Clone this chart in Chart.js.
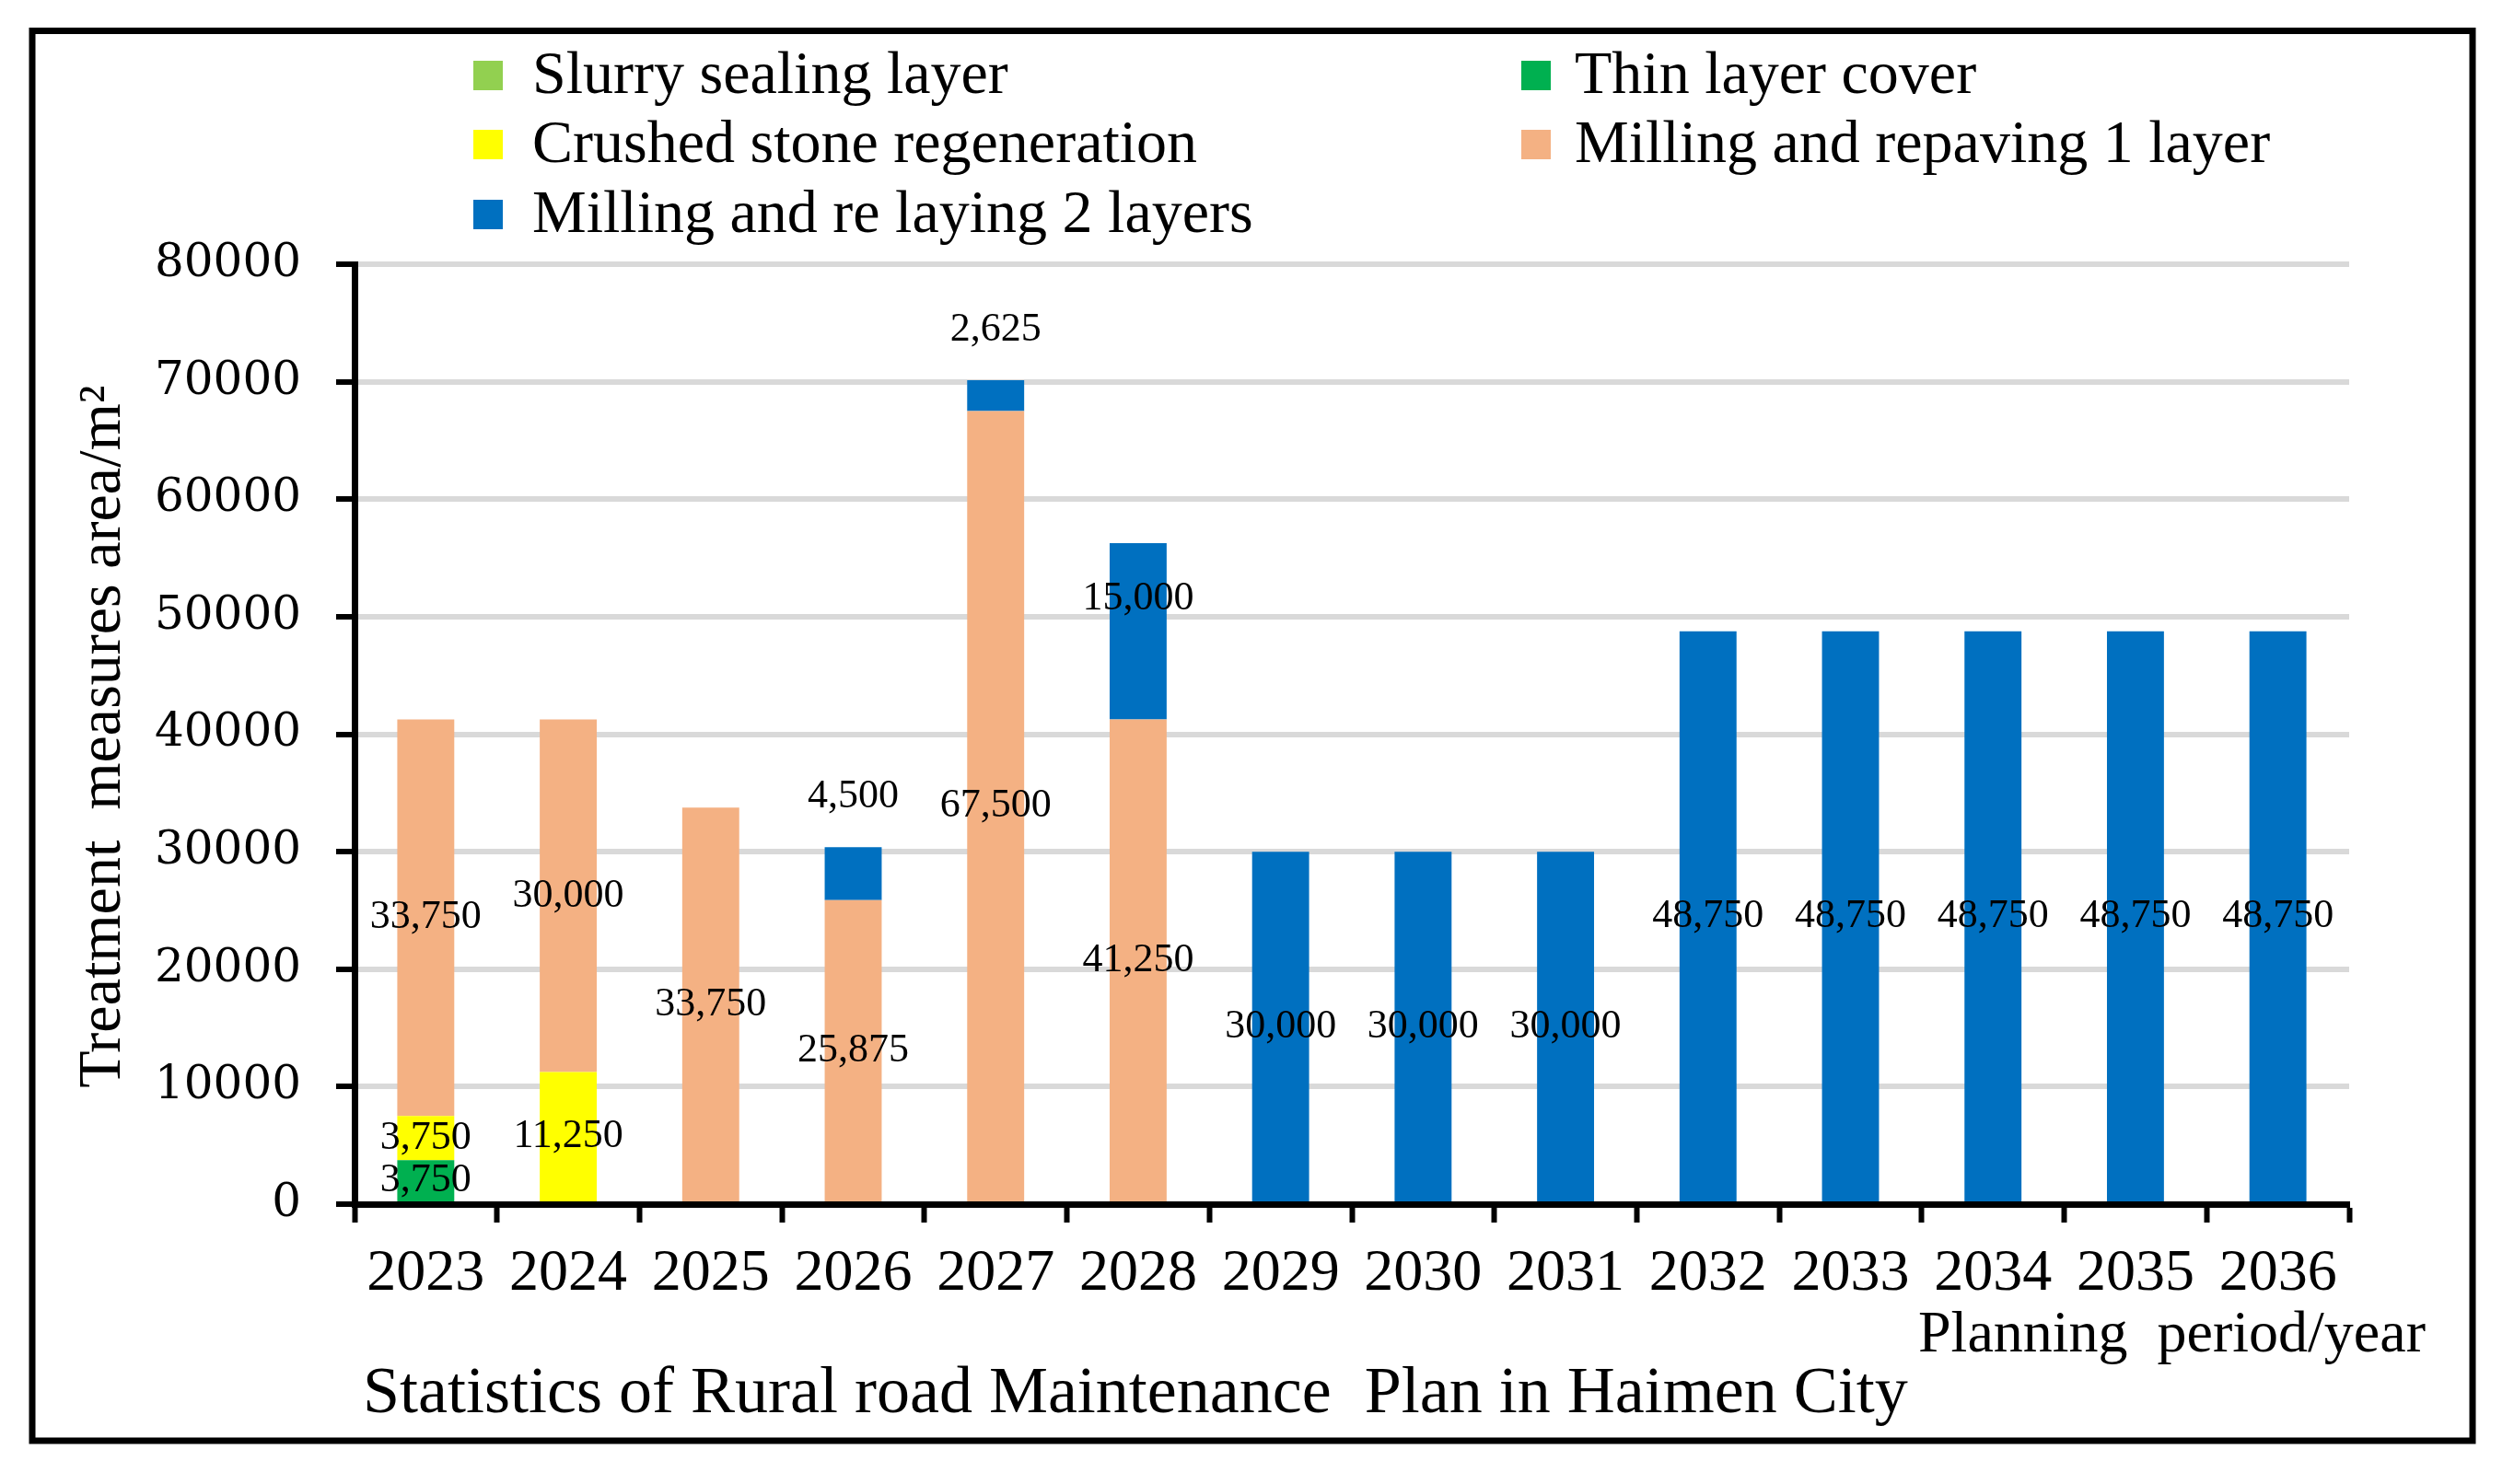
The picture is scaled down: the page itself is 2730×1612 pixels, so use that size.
<!DOCTYPE html>
<html>
<head>
<meta charset="utf-8">
<script src="https://cdn.jsdelivr.net/npm/chart.js@4.4.1/dist/chart.umd.min.js"></script>
<style>
  html, body { margin: 0; padding: 0; background: #fff; }
  #wrap { position: relative; width: 2730px; height: 1612px; }
</style>
</head>
<body>
<div id="wrap"><canvas id="myChart"></canvas></div>
<script>
const years = ['2023', '2024', '2025', '2026', '2027', '2028', '2029', '2030', '2031', '2032', '2033', '2034', '2035', '2036'];

const slurrySealing = [0, 0, 0, 0, 0, 0, 0, 0, 0, 0, 0, 0, 0, 0];
const thinLayer = [3750, 0, 0, 0, 0, 0, 0, 0, 0, 0, 0, 0, 0, 0];
const crushedStone = [3750, 11250, 0, 0, 0, 0, 0, 0, 0, 0, 0, 0, 0, 0];
const milling1 = [33750, 30000, 33750, 25875, 67500, 41250, 0, 0, 0, 0, 0, 0, 0, 0];
const milling2 = [0, 0, 0, 4500, 2625, 15000, 30000, 30000, 30000, 48750, 48750, 48750, 48750, 48750];

const yTicks = [0, 10000, 20000, 30000, 40000, 50000, 60000, 70000, 80000];

const serif = '"Liberation Serif", "Times New Roman", serif';

// legend, titles, data labels and the outer frame
const textPlugin = {
  id: 'texts',
  afterDatasetsDraw(chart) {
    const ctx = chart.ctx;
    const sets = chart.data.datasets;
    const last = sets.length - 1;
    ctx.save();
    ctx.font = '44px ' + serif;
    ctx.fillStyle = '#000';
    ctx.textAlign = 'center';
    ctx.textBaseline = 'middle';
    sets.forEach((ds, i) => {
      const meta = chart.getDatasetMeta(i);
      meta.data.forEach((bar, j) => {
        const v = ds.data[j];
        if (!v) return;
        let y = (bar.y + bar.base) / 2;
        const below = sets.slice(0, i).reduce((s, d) => s + d.data[j], 0);
        if (i === last && v < 5000) {
          // small top segments get their label above the bar
          y = bar.y - 55;
        } else if (i === last && below > 0) {
          // top segment sitting on another one: nudged up a bit
          y -= 35;
        }
        ctx.fillText(v.toLocaleString('en-US'), bar.x, y);
      });
    });
    ctx.restore();
  },
  afterDraw(chart) {
    const ctx = chart.ctx;
    ctx.save();

    // outer frame
    ctx.strokeStyle = '#000';
    ctx.lineWidth = 7;
    ctx.strokeRect(35, 33.5, 2650, 1531.5);

    // legend in two columns
    const cols = [514, 1652];
    const rows = [82, 157, 233];
    ctx.font = '66px ' + serif;
    ctx.textBaseline = 'middle';
    ctx.textAlign = 'left';
    chart.data.datasets.forEach((ds, i) => {
      const x = cols[i % 2];
      const y = rows[Math.floor(i / 2)];
      ctx.fillStyle = ds.backgroundColor;
      ctx.fillRect(x, y - 16, 32, 32);
      ctx.fillStyle = '#000';
      ctx.fillText(ds.label, x + (i % 2 ? 58 : 64), y + 2);
    });

    // axis titles
    ctx.textBaseline = 'alphabetic';
    ctx.font = '64px ' + serif;
    ctx.fillText('Planning  period/year', 2083, 1468);

    ctx.font = '72px ' + serif;
    ctx.fillText('Statistics of Rural road Maintenance  Plan in Haimen City', 394, 1534);

    ctx.translate(130, 800);
    ctx.rotate(-Math.PI / 2);
    ctx.textAlign = 'center';
    ctx.font = '66px ' + serif;
    ctx.fillText('Treatment  measures area/m\u00B2', 0, 0);

    ctx.restore();
  }
};

const ctx = document.getElementById('myChart').getContext('2d');

const myChart = new Chart(ctx, {
  type: 'bar',
  data: {
    labels: years,
    datasets: [
      { label: 'Slurry sealing layer', data: slurrySealing, backgroundColor: '#92d050' },
      { label: 'Thin layer cover', data: thinLayer, backgroundColor: '#00b050' },
      { label: 'Crushed stone regeneration', data: crushedStone, backgroundColor: '#ffff00' },
      { label: 'Milling and repaving 1 layer', data: milling1, backgroundColor: '#f4b183' },
      { label: 'Milling and re laying 2 layers', data: milling2, backgroundColor: '#0070c0' },
    ],
  },
  options: {
    responsive: true,
    maintainAspectRatio: false,
    animation: false,
    layout: { padding: { top: 287, right: 179, bottom: 0, left: 0 } },
    datasets: { bar: { barPercentage: 0.4, categoryPercentage: 1 } },
    plugins: {
      legend: { display: false },
      tooltip: { enabled: false },
    },
    scales: {
      x: {
        stacked: true,
        afterFit(scale) { scale.height = 304; },
        grid: {
          offset: true,
          drawOnChartArea: false,
          tickLength: 20,
          tickColor: '#000',
          tickWidth: 6,
        },
        border: { color: '#000', width: 7 },
        ticks: { color: '#000', font: { family: serif, size: 64 }, padding: 18 },
      },
      y: {
        stacked: true,
        min: 0,
        max: 80000,
        afterFit(scale) { scale.width = 385; },
        afterBuildTicks(scale) { scale.ticks = yTicks.map((v) => ({ value: v })); },
        grid: {
          color: (c) => (c.tick && c.tick.value === 0 ? 'rgba(0,0,0,0)' : '#d9d9d9'),
          lineWidth: 6,
          tickLength: 20,
          tickColor: '#000',
          tickWidth: 6,
        },
        border: { color: '#000', width: 7 },
        ticks: {
          color: '#000',
          font: { family: '"DejaVu Serif", serif', size: 50 },
          padding: 38,
          callback: (v) => String(v),
        },
      },
    },
  },
  plugins: [textPlugin],
});
</script>
</body>
</html>
